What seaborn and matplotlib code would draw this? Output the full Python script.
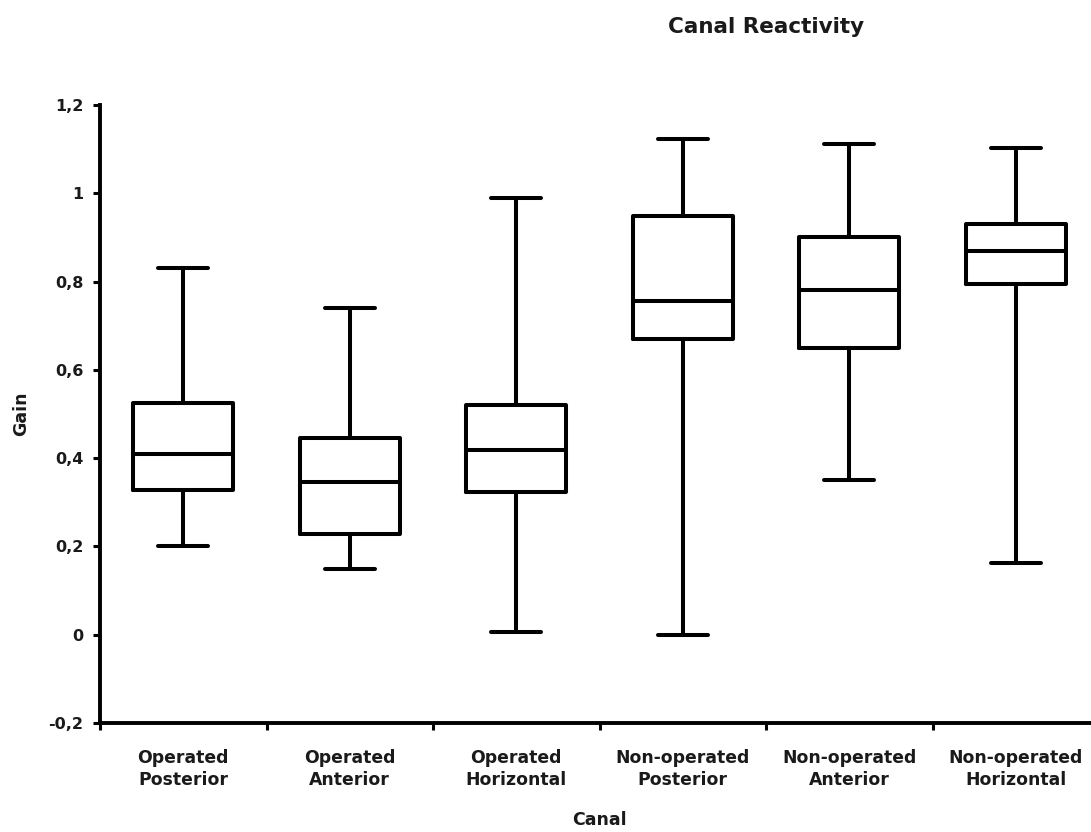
import numpy as np
import pandas as pd
import matplotlib
matplotlib.use("Agg")
import matplotlib.pyplot as plt
from matplotlib.ticker import FuncFormatter, FixedLocator
import seaborn as sns

# Canal groups and their five-number summaries (gain)
canals = [
    "Operated\nPosterior",
    "Operated\nAnterior",
    "Operated\nHorizontal",
    "Non-operated\nPosterior",
    "Non-operated\nAnterior",
    "Non-operated\nHorizontal",
]
minimum = [0.200, 0.148, 0.007, 0.000, 0.351, 0.162]
q1 = [0.328, 0.228, 0.323, 0.669, 0.650, 0.794]
median = [0.410, 0.345, 0.419, 0.756, 0.780, 0.870]
q3 = [0.524, 0.445, 0.520, 0.949, 0.902, 0.930]
maximum = [0.830, 0.740, 0.990, 1.122, 1.111, 1.102]
y_ticks = [-0.2, 0.0, 0.2, 0.4, 0.6, 0.8, 1.0, 1.2]

# Long-form table: the five summary values per canal reproduce the quartiles exactly
rows = []
for c, a, b, m, d, e in zip(canals, minimum, q1, median, q3, maximum):
    for v in (a, b, m, d, e):
        rows.append({"Canal": c, "Gain": v})
df = pd.DataFrame(rows)

sns.set_style("ticks")
plt.rcParams["font.family"] = ["DejaVu Sans"]
plt.rcParams["font.weight"] = "bold"

text_color = "#1a1a1a"

fig = plt.figure(figsize=(10.91, 8.32), dpi=100)
ax = fig.add_axes([0.0917, 0.131, 0.9157, 0.7428])

lw = 2.9
sns.boxplot(
    data=df, x="Canal", y="Gain", order=canals,
    whis=(0, 100), width=0.6, fill=False, color="black",
    linewidth=lw, showfliers=False, ax=ax,
)

ax.set_xlim(-0.5, len(canals) - 0.5)
ax.set_ylim(-0.2, 1.2)
ax.set_yticks(y_ticks)
ax.yaxis.set_major_formatter(
    FuncFormatter(lambda v, _: f"{v:g}".replace(".", ",").replace("\u2212", "-"))
)

# Category labels sit between boundary ticks
ax.xaxis.set_minor_locator(FixedLocator(np.arange(-0.5, len(canals), 1.0)))
ax.tick_params(axis="x", which="major", length=0, pad=19, labelsize=12.4,
               labelcolor=text_color)
ax.tick_params(axis="x", which="minor", length=5, width=2.2, direction="out", color="black")
ax.tick_params(axis="y", which="major", length=5, width=2.2, direction="out",
               pad=7, labelsize=11.5, color="black", labelcolor=text_color)
for lab in ax.get_xticklabels():
    lab.set_fontweight("bold")
    lab.set_linespacing(1.25)
for lab in ax.get_yticklabels():
    lab.set_fontweight("bold")

for side in ("top", "right"):
    ax.spines[side].set_visible(False)
for side in ("left", "bottom"):
    ax.spines[side].set_linewidth(2.8)
    ax.spines[side].set_color("black")

ax.set_xlabel("Canal", fontsize=12.5, fontweight="bold", labelpad=16, color=text_color)
ax.set_ylabel("Gain", fontsize=12.5, fontweight="bold", labelpad=13, color=text_color)

fig.text(0.702, 1 - 27 / 832, "Canal Reactivity", ha="center", va="center",
         fontsize=15.5, fontweight="bold", color=text_color)

fig.savefig("out.png", dpi=100, facecolor="white")
